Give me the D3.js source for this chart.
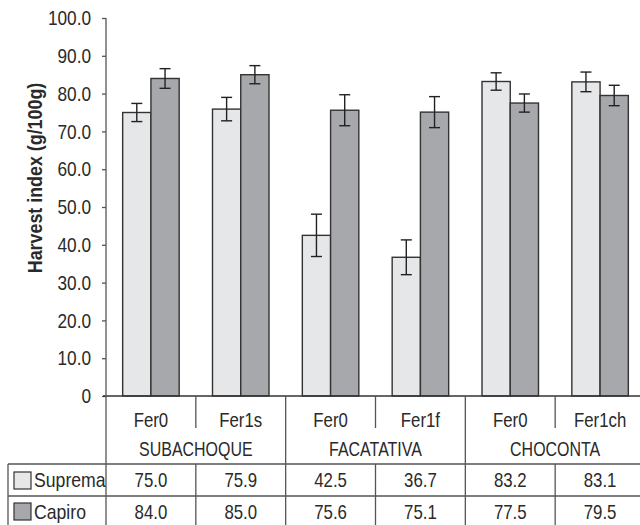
<!DOCTYPE html>
<html>
<head>
<meta charset="utf-8">
<script src="https://cdn.jsdelivr.net/npm/d3@7"></script>
<style>
  body { margin: 0; background: #fff; }
  svg { display: block; font-family: "Liberation Sans", Arial, sans-serif; }
</style>
</head>
<body>
<div id="chart"></div>
<script>
// data
const sites = ["SUBACHOQUE", "FACATATIVA", "CHOCONTA"];
const treatments = ["Fer0", "Fer1s", "Fer0", "Fer1f", "Fer0", "Fer1ch"];
const varieties = ["Suprema", "Capiro"];
const suprema = [75.0, 75.9, 42.5, 36.7, 83.2, 83.1];
const capiro = [84.0, 85.0, 75.6, 75.1, 77.5, 79.5];
const supremaErr = [2.4, 3.1, 5.6, 4.6, 2.3, 2.6];
const capiroErr = [2.6, 2.4, 4.1, 4.1, 2.4, 2.7];
const yTicks = [0, 10, 20, 30, 40, 50, 60, 70, 80, 90, 100];

const W = 640, H = 525;
const colors = { Suprema: "#e6e7e8", Capiro: "#a7a8ab" };
const lineCol = "#555";
const textCol = "#2a2a2a";

// squeeze Liberation Sans into a condensed look
function narrow(sel, f) {
  sel.each(function() {
    const w = this.getComputedTextLength();
    d3.select(this).attr("textLength", w * f).attr("lengthAdjust", "spacingAndGlyphs");
  });
}

const svg = d3.select("#chart").append("svg").attr("width", W).attr("height", H);

const x0 = d3.scaleBand().domain(d3.range(treatments.length)).range([106, 645]).padding(0);
const x1 = d3.scaleBand().domain(varieties).range([0, x0.bandwidth()]).paddingInner(0).paddingOuter(0.59);
const y = d3.scaleLinear().domain([0, 100]).range([396, 18]);

const values = { Suprema: suprema, Capiro: capiro };
const errs = { Suprema: supremaErr, Capiro: capiroErr };

const bars = [];
treatments.forEach((t, i) => {
  varieties.forEach(v => bars.push({ i, v, val: values[v][i], err: errs[v][i] }));
});

// y axis
const yAxis = svg.append("g")
  .attr("transform", "translate(106,0)")
  .call(d3.axisLeft(y).tickValues(yTicks).tickSize(4).tickSizeOuter(0).tickPadding(11)
    .tickFormat(d => d === 0 ? "0" : d.toFixed(1)));
yAxis.select(".domain").remove();
yAxis.selectAll(".tick line").attr("stroke", lineCol).attr("stroke-width", 1.3);
yAxis.selectAll(".tick text").attr("fill", textCol).attr("font-family", "Liberation Sans").style("font-size", "21px");
narrow(yAxis.selectAll(".tick text"), 0.82);

// bars
svg.selectAll("rect.bar").data(bars).enter().append("rect")
  .attr("class", "bar")
  .attr("x", d => x0(d.i) + x1(d.v))
  .attr("y", d => y(d.val))
  .attr("width", x1.bandwidth())
  .attr("height", d => y(0) - y(d.val))
  .attr("fill", d => colors[d.v])
  .attr("stroke", "#333").attr("stroke-width", 1.4);

// error bars
const eb = svg.selectAll("g.err").data(bars).enter().append("g").attr("class", "err")
  .attr("stroke", "#222").attr("stroke-width", 1.4);
const cx = d => x0(d.i) + x1(d.v) + x1.bandwidth() / 2;
eb.append("line").attr("x1", cx).attr("x2", cx)
  .attr("y1", d => y(d.val + d.err)).attr("y2", d => y(d.val - d.err));
eb.append("line").attr("x1", d => cx(d) - 5.5).attr("x2", d => cx(d) + 5.5)
  .attr("y1", d => y(d.val + d.err)).attr("y2", d => y(d.val + d.err));
eb.append("line").attr("x1", d => cx(d) - 5.5).attr("x2", d => cx(d) + 5.5)
  .attr("y1", d => y(d.val - d.err)).attr("y2", d => y(d.val - d.err));

// table lines
const tbl = svg.append("g").attr("stroke", lineCol).attr("stroke-width", 1.3);
const rowTop = 464, rowMid = 496, bottom = 530;
tbl.append("line").attr("x1", 103).attr("x2", W).attr("y1", y(0)).attr("y2", y(0)).attr("stroke", "#333");
tbl.append("line").attr("x1", 106).attr("x2", 106).attr("y1", y(100)).attr("y2", bottom);
tbl.append("line").attr("x1", 8).attr("x2", W).attr("y1", rowTop).attr("y2", rowTop);
tbl.append("line").attr("x1", 8).attr("x2", W).attr("y1", rowMid).attr("y2", rowMid);
tbl.append("line").attr("x1", 8).attr("x2", 8).attr("y1", rowTop).attr("y2", bottom);
treatments.forEach((t, i) => {
  if (i === 0) return;
  const xx = x0(i);
  if (i % 2 === 0) {
    tbl.append("line").attr("x1", xx).attr("x2", xx).attr("y1", y(0)).attr("y2", bottom);
  } else {
    tbl.append("line").attr("x1", xx).attr("x2", xx).attr("y1", y(0)).attr("y2", 428);
    tbl.append("line").attr("x1", xx).attr("x2", xx).attr("y1", rowTop).attr("y2", bottom);
  }
});

// table text
const txt = svg.append("g").attr("fill", textCol).style("font-size", "21px").attr("text-anchor", "middle");
treatments.forEach((t, i) => {
  const mid = x0(i) + x0.bandwidth() / 2;
  txt.append("text").attr("class", "cell").attr("x", mid).attr("y", 427).text(t);
  txt.append("text").attr("class", "cell").attr("x", mid).attr("y", 487).text(suprema[i].toFixed(1));
  txt.append("text").attr("class", "cell").attr("x", mid).attr("y", 519).text(capiro[i].toFixed(1));
});
narrow(txt.selectAll("text.cell"), 0.8);
const siteText = txt.selectAll("text.site").data(sites).enter().append("text")
  .attr("class", "site")
  .attr("x", (s, k) => x0(k * 2 + 1))
  .attr("y", 456)
  .text(s => s);
narrow(siteText, 0.76);

// legend in table
varieties.forEach((v, k) => {
  const yy = k === 0 ? 472 : 503;
  svg.append("rect").attr("x", 14).attr("y", yy).attr("width", 17).attr("height", 17)
    .attr("fill", colors[v]).attr("stroke", "#333").attr("stroke-width", 1.2);
  const lt = svg.append("text").attr("x", 34).attr("y", k === 0 ? 487 : 519)
    .attr("fill", textCol).style("font-size", "21px").text(v);
  narrow(lt, 0.84);
});

// y label
const yl = svg.append("text")
  .attr("transform", "translate(42,178) rotate(-90)")
  .attr("text-anchor", "middle")
  .attr("fill", textCol)
  .style("font-size", "21px").style("font-weight", "bold")
  .text("Harvest index (g/100g)");
narrow(yl, 0.85);
</script>
</body>
</html>
